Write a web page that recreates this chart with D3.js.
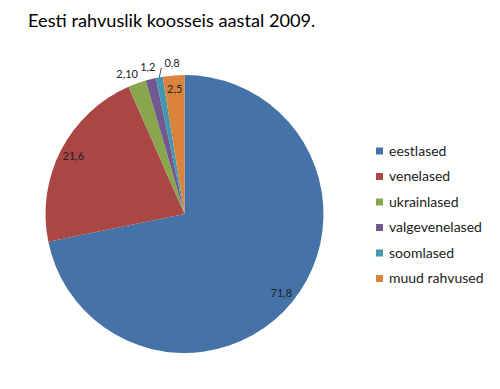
<!DOCTYPE html>
<html>
<head>
    <meta charset="UTF-8">
    <style>
        *{
            margin: 0;
            padding: 0;
        }
        body{
            background-color: #fff;
        }
        #chart{
            background-color: #fff;
            font-family: Lato, "Open Sans", sans-serif;
        }
        .title {
            fill: #000;
            font-size: 18.2px;
        }
        .lbl {
            fill: #222;
            font-size: 11px;
        }
        .leg {
            fill: #222;
            font-size: 14px;
        }
    </style>
    <script src="https://d3js.org/d3.v7.min.js"></script>
    <title>Eesti rahvuslik koosseis</title>
</head>
<body>
<svg id="chart" width="500" height="389"></svg>
<script>
    // data
    var categories = ["eestlased", "venelased", "ukrainlased", "valgevenelased", "soomlased", "muud rahvused"];
    var values = [71.8, 21.6, 2.1, 1.2, 0.8, 2.5];
    var valueLabels = ["71,8", "21,6", "2,10", "1,2", "0,8", "2,5"];
    var colors = ["#4572A7", "#AA4643", "#89A54E", "#71588F", "#4198AF", "#DB843D"];

    var svg = d3.select("#chart");
    var cx = 184.5, cy = 214, r = 139;

    svg.append("text")
        .attr("class", "title")
        .attr("x", 28).attr("y", 27)
        .text("Eesti rahvuslik koosseis aastal 2009.");

    var pie = d3.pie().sort(null).value(function(d) { return d; });
    var arcs = pie(values);
    var arc = d3.arc().innerRadius(0).outerRadius(r);
    var color = d3.scaleOrdinal().domain(categories).range(colors);

    var g = svg.append("g")
        .attr("transform", "translate(" + cx + "," + cy + ")");

    g.selectAll("path")
        .data(arcs)
        .enter()
        .append("path")
        .attr("d", arc)
        .attr("fill", function(d, i) { return color(categories[i]); });

    // which labels go outside the pie (small slices next to each other)
    function outside(i) { return i >= 2 && i <= 4; }

    function polar(a, rr) { return [Math.sin(a) * rr, -Math.cos(a) * rr]; }

    arcs.forEach(function(d, i) {
        var mid = (d.startAngle + d.endAngle) / 2;
        var p;
        if (!outside(i)) {
            p = polar(mid, r * 0.9);
        } else if (i === 4) {
            // tiny slice: label pushed aside with a leader line
            var a = polar(mid, r), b = polar(mid + 0.025, r * 1.065);
            g.append("line")
                .attr("x1", a[0]).attr("y1", a[1])
                .attr("x2", b[0]).attr("y2", b[1])
                .attr("stroke", "#222").attr("stroke-width", 0.8);
            p = polar(mid + 0.1, r * 1.09);
        } else {
            p = polar(mid - (i === 2 ? 0.04 : 0), r * 1.09);
        }
        g.append("text")
            .attr("class", "lbl")
            .attr("x", p[0]).attr("y", p[1])
            .attr("text-anchor", "middle")
            .attr("dy", "0.35em")
            .text(valueLabels[i]);
    });

    var leg = svg.append("g")
        .attr("transform", "translate(376,151)");

    var row = leg.selectAll("g")
        .data(categories)
        .enter()
        .append("g")
        .attr("transform", function(d, i) { return "translate(0," + (i * 25.5) + ")"; });

    row.append("rect")
        .attr("x", 0).attr("y", -3.5)
        .attr("width", 7).attr("height", 7)
        .attr("fill", function(d) { return color(d); });

    row.append("text")
        .attr("class", "leg")
        .attr("x", 13).attr("y", 0)
        .attr("dy", "0.35em")
        .text(function(d) { return d; });
</script>
</body>
</html>
